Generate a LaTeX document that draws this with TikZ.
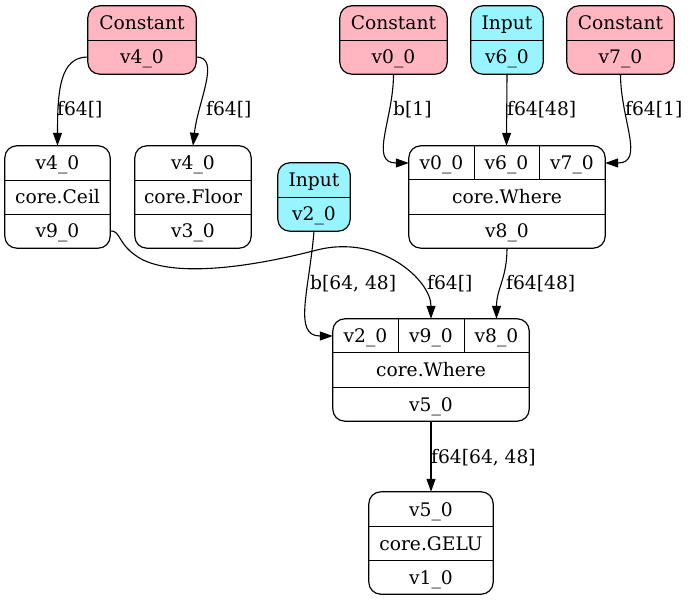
\documentclass[tikz,border=0pt]{standalone}
\usepackage{fontspec}
\setmainfont{DejaVu Serif}
\usetikzlibrary{arrows.meta,backgrounds}
\definecolor{cpink}{HTML}{FFB6C1}
\definecolor{icyan}{HTML}{98F5FF}
\begin{document}
\begin{tikzpicture}[x=1pt,y=-1pt,
  fld/.style={inner sep=0pt, minimum height=34pt, text height=18pt, text depth=4pt, font=\fontsize{18.67}{22}\selectfont},
  box/.style={draw=black, line width=1.2pt, rounded corners=12pt},
  div/.style={draw=black, line width=1.2pt},
  edge/.style={line width=1.1pt, -{Triangle[length=13pt,width=9pt]}},
  lbl/.style={inner sep=0pt, anchor=base west, font=\fontsize{18.67}{22}\selectfont}]
\useasboundingbox (0,0) rectangle (688,601);

% Constant v4_0
\node[fld, minimum width=108pt] (c4a) at (142,23) {Constant};
\node[fld, minimum width=108pt] (c4b) at (142,57) {v4\_0};
% Constant v0_0
\node[fld, minimum width=107pt] (c0a) at (393.5,23) {Constant};
\node[fld, minimum width=107pt] (c0b) at (393.5,57) {v0\_0};
% Input v6_0
\node[fld, minimum width=72pt] (i6a) at (507,23) {Input};
\node[fld, minimum width=72pt] (i6b) at (507,57) {v6\_0};
% Constant v7_0
\node[fld, minimum width=107pt] (c7a) at (620.5,23) {Constant};
\node[fld, minimum width=107pt] (c7b) at (620.5,57) {v7\_0};
% Ceil
\node[fld, minimum width=105pt] (ceil1) at (57.5,163) {v4\_0};
\node[fld, minimum width=105pt] (ceil2) at (57.5,197) {core.Ceil};
\node[fld, minimum width=105pt] (ceil3) at (57.5,231) {v9\_0};
% Floor
\node[fld, minimum width=116pt] (floor1) at (193,163) {v4\_0};
\node[fld, minimum width=116pt] (floor2) at (193,197) {core.Floor};
\node[fld, minimum width=116pt] (floor3) at (193,231) {v3\_0};
% Input v2_0
\node[fld, minimum width=72pt] (i2a) at (314,180) {Input};
\node[fld, minimum width=72pt] (i2b) at (314,214) {v2\_0};
% Where (top)
\node[fld, minimum width=65pt] (w8a) at (441.5,163) {v0\_0};
\node[fld, minimum width=65pt] (w8b) at (506.5,163) {v6\_0};
\node[fld, minimum width=66pt] (w8c) at (572,163) {v7\_0};
\node[fld, minimum width=196pt] (w8m) at (507,197) {core.Where};
\node[fld, minimum width=196pt] (w8o) at (507,231) {v8\_0};
% Where (bottom)
\node[fld, minimum width=65pt] (w5a) at (365.5,336) {v2\_0};
\node[fld, minimum width=66pt] (w5b) at (431,336) {v9\_0};
\node[fld, minimum width=65pt] (w5c) at (496.5,336) {v8\_0};
\node[fld, minimum width=196pt] (w5m) at (431,370) {core.Where};
\node[fld, minimum width=196pt] (w5o) at (431,404) {v5\_0};
% GELU
\node[fld, minimum width=124pt] (gelu1) at (431,509) {v5\_0};
\node[fld, minimum width=124pt] (gelu2) at (431,543) {core.GELU};
\node[fld, minimum width=124pt] (gelu3) at (431,577) {v1\_0};

\begin{pgfonlayer}{background}
  \draw[box, fill=cpink] (c4a.north west) rectangle (c4b.south east);
  \draw[box, fill=cpink] (c0a.north west) rectangle (c0b.south east);
  \draw[box, fill=icyan] (i6a.north west) rectangle (i6b.south east);
  \draw[box, fill=cpink] (c7a.north west) rectangle (c7b.south east);
  \draw[box, fill=white] (ceil1.north west) rectangle (ceil3.south east);
  \draw[box, fill=white] (floor1.north west) rectangle (floor3.south east);
  \draw[box, fill=icyan] (i2a.north west) rectangle (i2b.south east);
  \draw[box, fill=white] (w8a.north west) rectangle (w8o.south east);
  \draw[box, fill=white] (w5a.north west) rectangle (w5o.south east);
  \draw[box, fill=white] (gelu1.north west) rectangle (gelu3.south east);
\end{pgfonlayer}

% dividers
\draw[div] (c4a.south west) -- (c4a.south east);
\draw[div] (c0a.south west) -- (c0a.south east);
\draw[div] (i6a.south west) -- (i6a.south east);
\draw[div] (c7a.south west) -- (c7a.south east);
\draw[div] (ceil1.south west) -- (ceil1.south east);
\draw[div] (ceil2.south west) -- (ceil2.south east);
\draw[div] (floor1.south west) -- (floor1.south east);
\draw[div] (floor2.south west) -- (floor2.south east);
\draw[div] (i2a.south west) -- (i2a.south east);
\draw[div] (w8a.north east) -- (w8a.south east);
\draw[div] (w8b.north east) -- (w8b.south east);
\draw[div] (w8m.north west) -- (w8m.north east);
\draw[div] (w8m.south west) -- (w8m.south east);
\draw[div] (w5a.north east) -- (w5a.south east);
\draw[div] (w5b.north east) -- (w5b.south east);
\draw[div] (w5m.north west) -- (w5m.north east);
\draw[div] (w5m.south west) -- (w5m.south east);
\draw[div] (gelu1.south west) -- (gelu1.south east);
\draw[div] (gelu2.south west) -- (gelu2.south east);

% edges
\draw[edge] (c4b.west) .. controls +(-28,0) and +(0,-55) .. (ceil1.north);
\draw[edge] (c4b.east) .. controls +(25,0) and +(5,-45) .. (floor1.north);
\draw[edge] (c0b.south) .. controls +(0,45) and +(-40,0) .. (w8a.west);
\draw[edge] (i6b.south) -- (w8b.north);
\draw[edge] (c7b.south) .. controls +(0,45) and +(40,0) .. (w8c.east);
\draw[edge] (i2b.south) .. controls +(-5,60) and +(-40,0) .. (w5a.west);
\draw[edge] (ceil3.east) .. controls (120,230) and (118,243) .. (135,255)
  .. controls (162,276) and (232,272) .. (317,250)
  .. controls (380,234) and (431,280) .. (w5b.north);
\draw[edge] (w8o.south) .. controls +(0,30) and +(0,-30) .. (w5c.north);
\draw[edge] (w5o.south) -- (gelu1.north);

% labels
\node[lbl] (l1) at (57,116) {f64[]};
\node[lbl] (l2) at (206,116) {f64[]};
\node[lbl] (l3) at (393,116) {b[1]};
\node[lbl] (l4) at (507,116) {f64[48]};
\node[lbl] (l5) at (625,116) {f64[1]};
\node[lbl] (l6) at (310,290) {b[64, 48]};
\node[lbl] (l7) at (427,290) {f64[]};
\node[lbl] (l8) at (506,290) {f64[48]};
\node[lbl] (l9) at (431,463) {f64[64, 48]};
\end{tikzpicture}
\end{document}
